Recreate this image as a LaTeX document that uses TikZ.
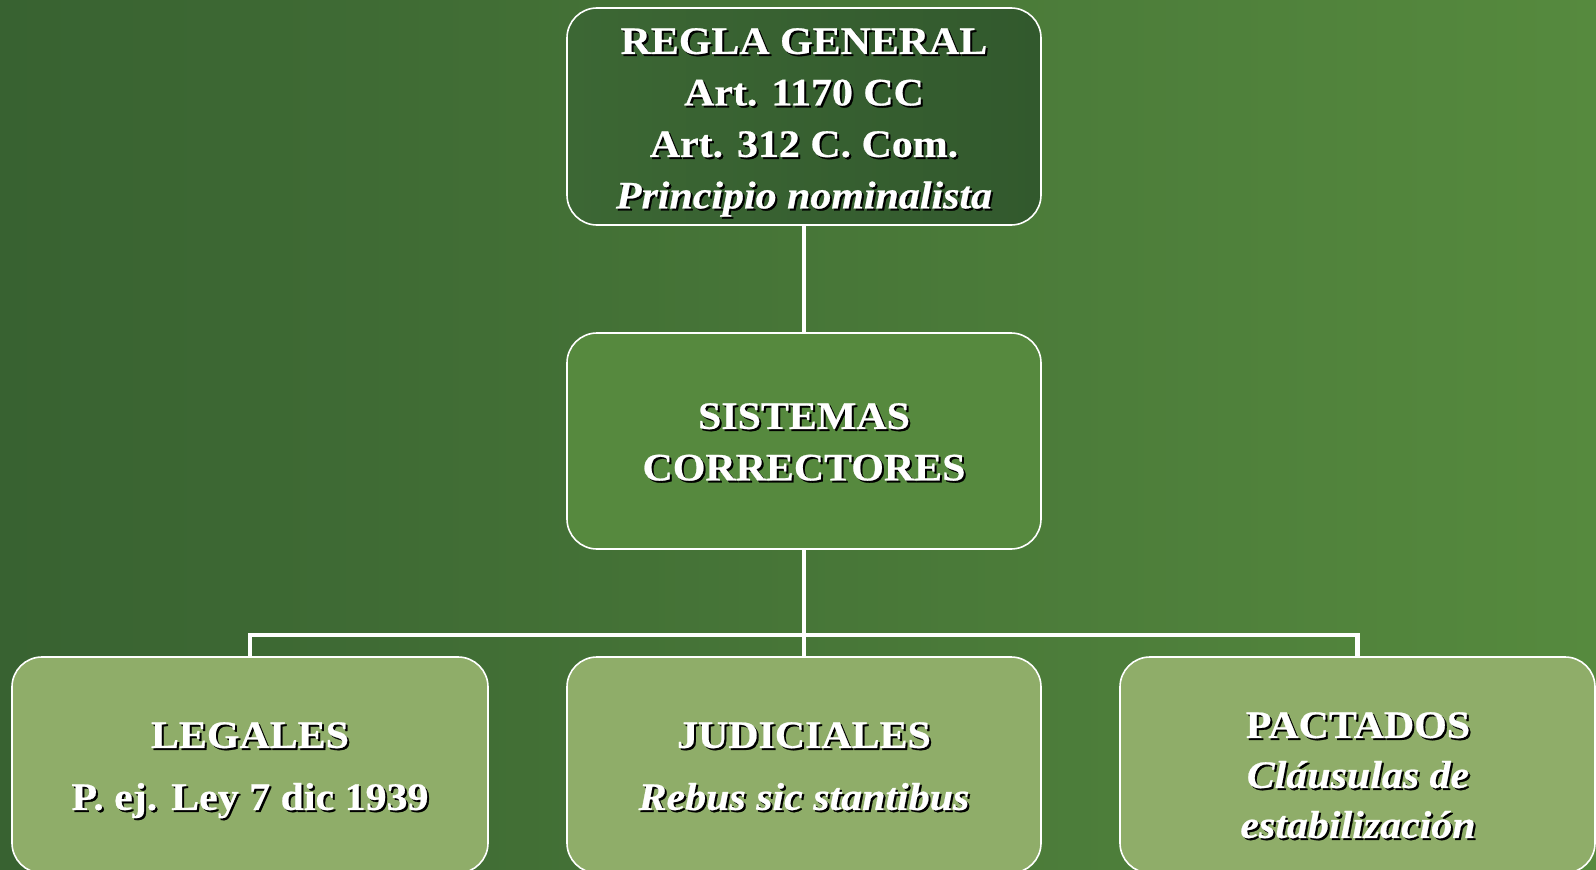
\documentclass[tikz,border=0pt]{standalone}
\usepackage{fontspec}
\setmainfont{Liberation Serif}[FakeStretch=1.08, BoldFeatures={FakeBold=0.6}, BoldItalicFeatures={FakeBold=0.6}]
\usetikzlibrary{positioning}
\definecolor{bgL}{RGB}{56,98,49}
\definecolor{bgR}{RGB}{86,138,62}
\definecolor{topL}{RGB}{60,103,52}
\definecolor{topR}{RGB}{50,89,45}
\definecolor{midfill}{RGB}{86,137,62}
\definecolor{botfill}{RGB}{143,173,105}
\newcommand{\sh}[1]{\leavevmode\rlap{\kern2pt\raisebox{-2pt}{\color{black}#1}}#1}
\tikzset{
  box/.style={draw=white, line width=1.6pt, rounded corners=30pt, inner sep=0pt, minimum width=474pt, minimum height=216pt},
  lbl/.style={text=white, align=center, inner sep=0pt, anchor=north, font=\fontsize{38.8}{51.5}\selectfont\bfseries},
  conn/.style={draw=white, line width=4.5pt}
}
\begin{document}
\begin{tikzpicture}[x=1pt,y=-1pt]
\useasboundingbox (0,0) rectangle (1596,870);
\shade[left color=bgL, right color=bgR] (0,0) rectangle (1596,870);
% boxes
\node[box, left color=topL, right color=topR, minimum height=217pt] (top) at (804,116.5) {};
\node[box, fill=midfill] (mid) at (804,441) {};
\node[box, fill=botfill, minimum width=476pt] (left) at (250,765) {};
\node[box, fill=botfill] (bmid) at (804,765) {};
\node[box, fill=botfill, minimum width=475pt] (right) at (1357.5,765) {};
% connectors
\coordinate (bar) at (804,635);
\draw[conn] (top.south) -- (mid.north);
\draw[conn] (mid.south) -- (bmid.north);
\draw[conn] (left.north) -- (left.north |- bar) -- (right.north |- bar) -- (right.north);
% labels
\node[lbl] (ttop) at (804,28) {\sh{REGLA GENERAL}\\ \sh{Art. 1170 CC}\\ \sh{Art. 312 C. Com.}\\ \sh{\itshape Principio nominalista}};
\node[lbl] (tmid) at (804,403) {\sh{SISTEMAS}\\ \sh{CORRECTORES}};
\node[lbl] (tleft) at (250,722) {\sh{LEGALES}\\[10.5pt] \sh{P. ej. Ley 7 dic 1939}};
\node[lbl] (tbmid) at (804,722) {\sh{JUDICIALES}\\[10.5pt] \sh{\itshape Rebus sic stantibus}};
\node[lbl, font=\fontsize{38.8}{50}\selectfont\bfseries] (tright) at (1358,712) {\sh{PACTADOS}\\ \sh{\itshape Cl\'ausulas de }\\ \sh{\itshape estabilizaci\'on}};
\end{tikzpicture}
\end{document}
